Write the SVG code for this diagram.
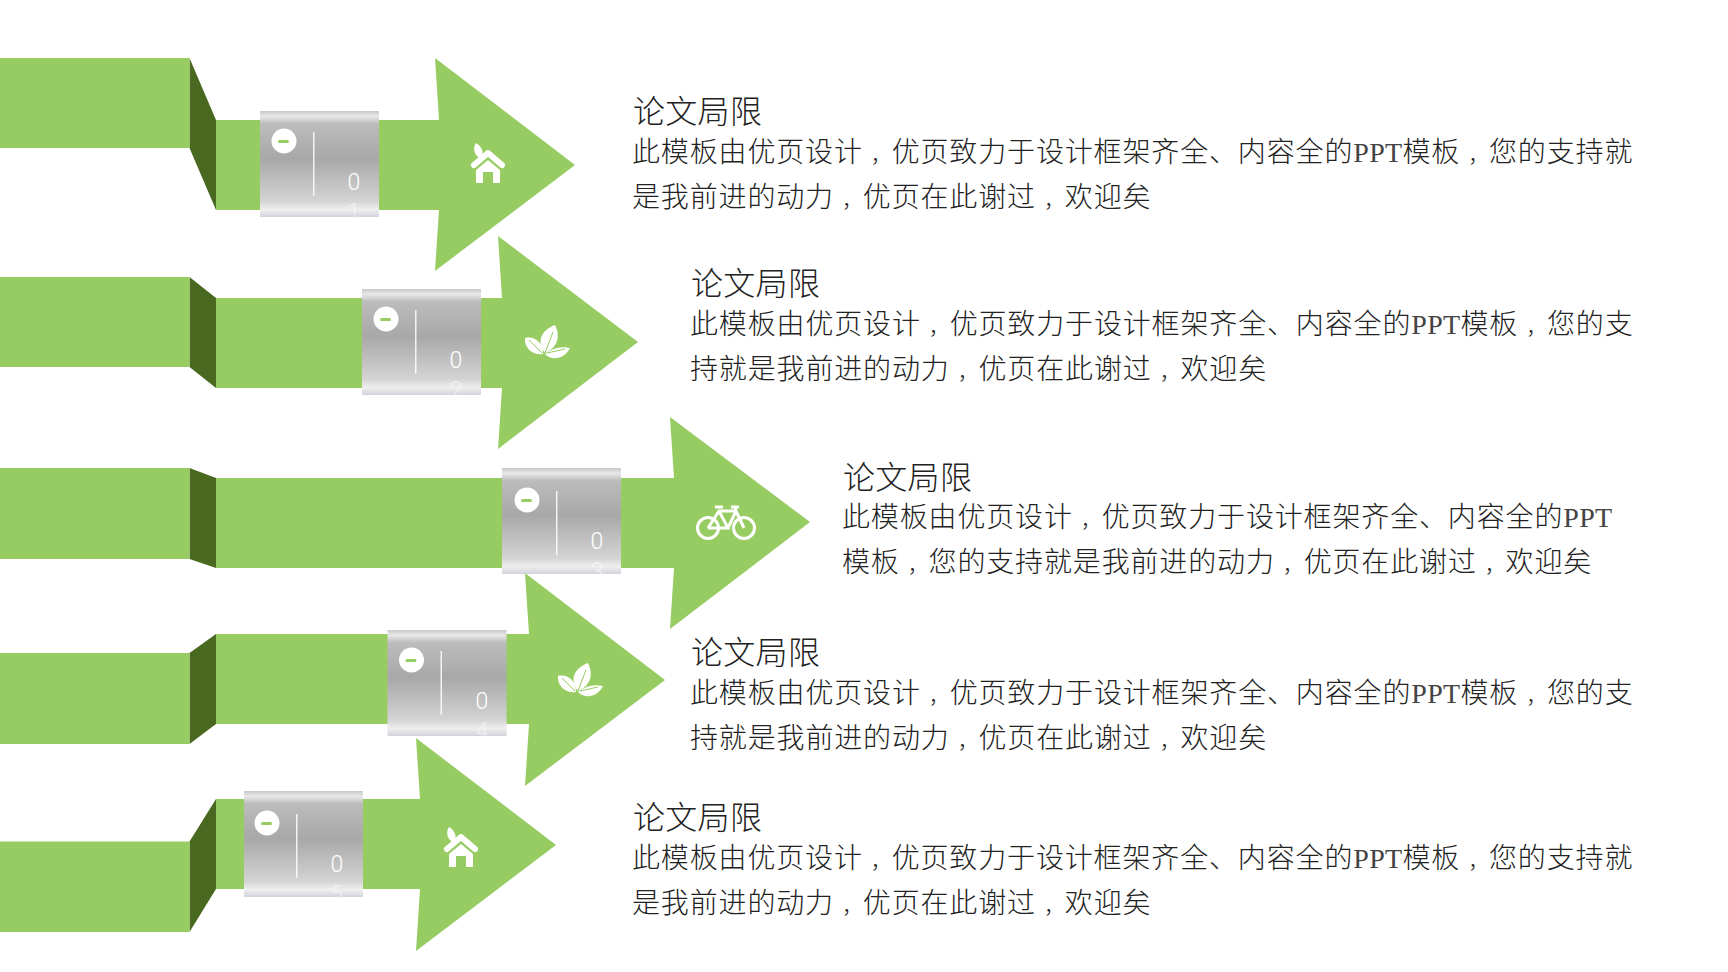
<svg xmlns="http://www.w3.org/2000/svg" width="1728" height="972" viewBox="0 0 1728 972">
<style>
.g{fill:#97cc62}.d{fill:#48691f}
.t{font-family:"Noto Sans CJK SC",sans-serif;font-size:32px;letter-spacing:.3px;fill:#222;font-weight:300}
.b{font-family:"Noto Sans CJK SC",sans-serif;font-size:28px;letter-spacing:.85px;fill:#222;font-weight:300}
.m{font-family:"Liberation Serif",serif;font-size:28px;letter-spacing:.3px;fill:#444;font-weight:400}
.c{font-size:21px;letter-spacing:-.15px}
.n{font-family:Roboto,"Liberation Sans",sans-serif;font-size:23px;fill:#fff;text-anchor:middle;font-weight:300}
.n2{fill-opacity:.55}
</style>
<defs>
<linearGradient id="m" x1="0" y1="0" x2="0" y2="1">
<stop offset="0" stop-color="#c8c8cc"/><stop offset=".05" stop-color="#e8e8e8"/><stop offset=".12" stop-color="#bcbcbc"/><stop offset=".45" stop-color="#a8a8a8"/><stop offset=".85" stop-color="#d4d4d4"/><stop offset=".93" stop-color="#efefef"/><stop offset="1" stop-color="#d2d2dc"/>
</linearGradient>
<rect id="plate" width="119" height="106" fill="url(#m)"/>
<g id="marks">
<circle cx="24" cy="30" r="12.500" fill="#fff"/>
<rect x="18" y="29" width="11" height="3" rx="1.500" fill="#97cc62"/>
<rect x="53" y="21" width="1.500" height="64" fill="#fff" fill-opacity=".85"/>
</g>
<g id="house" fill="#fff">
<path d="M-14-2 L0-14 L14-2" fill="none" stroke="#fff" stroke-width="6" stroke-linejoin="round" stroke-linecap="round"/>
<path d="M-12 3 L0-7 L12 3 V16 H5 V5 H-5 V16 H-12Z"/>
<path d="M-7-8 C-15-12-15-20-12-24 C-7-21-4-16-6-10Z"/>
</g>
<g id="leaf" fill="#fff">
<path d="M-2 11 C-11 0-6-12 8-17 C14-5 10 6-2 11Z"/>
<path d="M-4 12 C-17 14-23 3-22-4 C-13-6-4 0-4 12Z"/>
<path d="M-2 12 C5 6 14 4 23 6 C18 16 6 20-2 12Z"/>
<path d="M-2 11 L6-10 M-5 11 L-18-2 M0 11 L18 7" stroke="#97cc62" stroke-width="1" fill="none"/>
</g>
<g id="bike" fill="none" stroke="#fff" stroke-width="3">
<circle cx="-18" cy="6" r="10.500"/><circle cx="18" cy="6" r="10.500"/>
<path d="M-18 6 L-7-11 H10 L18 6 M-7-11 L2 6 H-18 M2 6 L10-11 M-11-15 H-3 M5-15 H13 M9-15 L10-11"/>
</g>
</defs>
<g id="connectors"></g>
<g id="node1">
<polygon class="d" points="189.500,58 216,120 216,210 189.500,148"/><rect class="g" y="58" width="189.500" height="90"/>
<polygon class="g" points="216,120 439,120 435,58 575,165 435,271 439,210 216,210"/>
<use href="#plate" x="260" y="111"/><use href="#marks" x="260" y="111"/>
<text class="n" x="354" y="190">0</text><text class="n n2" x="354" y="220">1</text>
<use href="#house" x="488" y="167"/>
<text class="t" x="633" y="123">论文局限</text>
<text class="b" x="632" y="162">此模板由优页设计<tspan class="c" dx="8">，</tspan>优页致力于设计框架齐全、内容全的<tspan class="m">PPT</tspan>模板<tspan class="c" dx="8">，</tspan>您的支持就</text>
<text class="b" x="632" y="207">是我前进的动力<tspan class="c" dx="8">，</tspan>优页在此谢过<tspan class="c" dx="8">，</tspan>欢迎矣</text>
</g>
<g id="node2">
<polygon class="d" points="189.500,277 216,298 216,388 189.500,367"/><rect class="g" y="277" width="189.500" height="90"/>
<polygon class="g" points="216,298 502,298 498,236 638,342 498,449 502,388 216,388"/>
<use href="#plate" x="362" y="289"/><use href="#marks" x="362" y="289"/>
<text class="n" x="456" y="368">0</text><text class="n n2" x="456" y="398">2</text>
<use href="#leaf" x="547" y="342"/>
<text class="t" x="691" y="295">论文局限</text>
<text class="b" x="690" y="334">此模板由优页设计<tspan class="c" dx="8">，</tspan>优页致力于设计框架齐全、内容全的<tspan class="m">PPT</tspan>模板<tspan class="c" dx="8">，</tspan>您的支</text>
<text class="b" x="690" y="379">持就是我前进的动力<tspan class="c" dx="8">，</tspan>优页在此谢过<tspan class="c" dx="8">，</tspan>欢迎矣</text>
</g>
<g id="node3">
<polygon class="d" points="189.500,468 216,478 216,568 189.500,559"/><rect class="g" y="468" width="189.500" height="91"/>
<polygon class="g" points="216,478 674,478 670,417 810,522 670,629 674,568 216,568"/>
<use href="#plate" x="502" y="468"/><use href="#marks" x="503" y="470"/>
<text class="n" x="597" y="549">0</text><text class="n n2" x="597" y="579">3</text>
<use href="#bike" x="726" y="522"/>
<text class="t" x="843" y="489">论文局限</text>
<text class="b" x="842" y="527">此模板由优页设计<tspan class="c" dx="8">，</tspan>优页致力于设计框架齐全、内容全的<tspan class="m">PPT</tspan></text>
<text class="b" x="842" y="572">模板<tspan class="c" dx="8">，</tspan>您的支持就是我前进的动力<tspan class="c" dx="8">，</tspan>优页在此谢过<tspan class="c" dx="8">，</tspan>欢迎矣</text>
</g>
<g id="node4">
<polygon class="d" points="189.500,653 216,634 216,724 189.500,744"/><rect class="g" y="653" width="189.500" height="91"/>
<polygon class="g" points="216,634 529,634 525,573 665,680 525,786 529,724 216,724"/>
<use href="#plate" x="387.500" y="630"/><use href="#marks" x="387.500" y="630"/>
<text class="n" x="482" y="709">0</text><text class="n n2" x="482" y="739">4</text>
<use href="#leaf" x="580" y="680"/>
<text class="t" x="691" y="664">论文局限</text>
<text class="b" x="690" y="703">此模板由优页设计<tspan class="c" dx="8">，</tspan>优页致力于设计框架齐全、内容全的<tspan class="m">PPT</tspan>模板<tspan class="c" dx="8">，</tspan>您的支</text>
<text class="b" x="690" y="748">持就是我前进的动力<tspan class="c" dx="8">，</tspan>优页在此谢过<tspan class="c" dx="8">，</tspan>欢迎矣</text>
</g>
<g id="node5">
<polygon class="d" points="189.500,841.500 216,799 216,889 189.500,932"/><rect class="g" y="841.500" width="189.500" height="90.500"/>
<polygon class="g" points="216,799 420,799 416,738 556,845 416,951 420,889 216,889"/>
<use href="#plate" x="244" y="791"/><use href="#marks" x="243" y="793"/>
<text class="n" x="337" y="872">0</text><text class="n n2" x="337" y="902">5</text>
<use href="#house" x="461" y="851"/>
<text class="t" x="633" y="829">论文局限</text>
<text class="b" x="632" y="868">此模板由优页设计<tspan class="c" dx="8">，</tspan>优页致力于设计框架齐全、内容全的<tspan class="m">PPT</tspan>模板<tspan class="c" dx="8">，</tspan>您的支持就</text>
<text class="b" x="632" y="913">是我前进的动力<tspan class="c" dx="8">，</tspan>优页在此谢过<tspan class="c" dx="8">，</tspan>欢迎矣</text>
</g>
</svg>
